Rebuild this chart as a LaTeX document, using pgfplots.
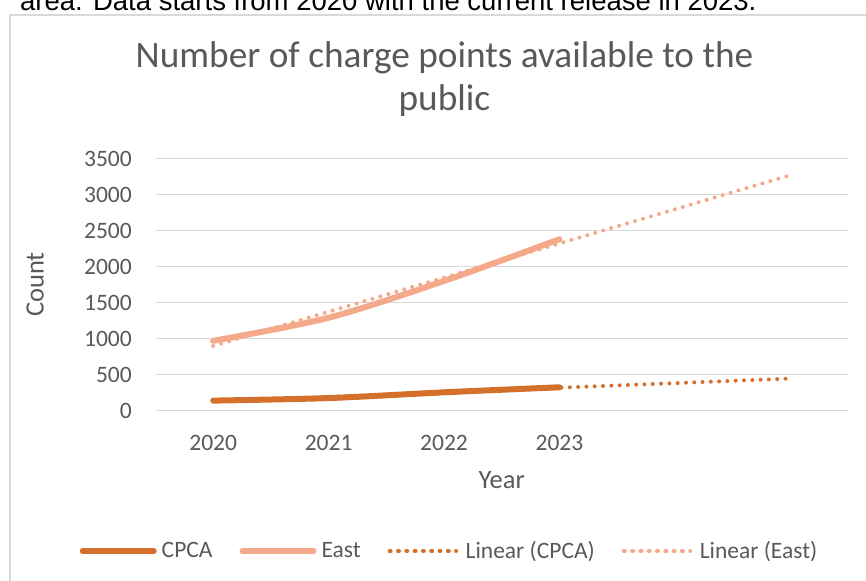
\documentclass[border=0pt]{standalone}
\usepackage{fontspec}
\setmainfont{Carlito}
\newfontfamily\arialfont{Liberation Sans}
\usepackage{pgfplots}
\pgfplotsset{compat=1.18}
\definecolor{cpca}{HTML}{D4702C}
\definecolor{east}{HTML}{F4A98A}
\definecolor{txt}{HTML}{595959}
\definecolor{gridc}{HTML}{D9D9D9}
\pgfplotsset{
  lineleg/.style={legend image code/.code={\draw[##1] (0bp,0bp) -- (71bp,0bp);}},
  trendleg/.style={legend image code/.code={\path (0bp,0bp) -- (69bp,0bp);\draw[##1] (1bp,0bp) -- (64bp,0bp);}},
}
\begin{document}
\begin{tikzpicture}[x=1bp,y=1bp]
\useasboundingbox (0,0) rectangle (866,581);
\clip (0,0) rectangle (866,581);
\node[anchor=base west, inner sep=0pt, font=\arialfont\fontsize{27.5bp}{32bp}\selectfont] at (20,570) {area. Data starts from 2020 with the current release in 2023.};
\draw[gridc, line width=1.5bp] (10,-10) rectangle (890,566);
\node[anchor=base, inner sep=0pt, text=txt, font=\fontsize{37.3bp}{44bp}\selectfont] at (444.5,513) {Number of charge points available to the};
\node[anchor=base, inner sep=0pt, text=txt, font=\fontsize{37.3bp}{44bp}\selectfont] at (444.5,470) {public};
\begin{axis}[
  at={(155.5bp,170.3bp)}, anchor=south west, scale only axis,
  width=692.5bp, height=252.2bp,
  xmin=-0.5, xmax=5.5, ymin=0, ymax=3500,
  xtick={0,1,2,3}, xticklabels={2020,2021,2022,2023},
  ytick={0,500,...,3500},
  ymajorgrids, grid style={draw=gridc, line width=1.3bp},
  axis line style={draw=none}, tick style={draw=none},
  /pgf/number format/assume math mode=true,
  /pgf/number format/1000 sep={},
  ticklabel style={font=\fontsize{23.5bp}{28bp}\selectfont, text=txt, inner sep=0pt},
  yticklabel style={anchor=east, xshift=-23.5bp},
  xticklabel style={anchor=north, yshift=-24bp},
  xlabel={Year}, ylabel={Count},
  label style={font=\fontsize{26.5bp}{31bp}\selectfont, text=txt, inner sep=0pt},
  xlabel style={at={(axis description cs:0.5,0)}, anchor=north, yshift=-61bp},
  ylabel style={at={(axis description cs:-0.174,0.5)}, anchor=center},
  legend columns=4,
  legend style={at={(axis description cs:0.4231,-0.5563)}, anchor=center, draw=none, fill=none,
    font=\fontsize{23.5bp}{28bp}\selectfont, text=txt, nodes={inner sep=0pt},
    /tikz/every odd column/.append style={column sep=5bp},
    /tikz/every even column/.append style={column sep=27bp}},
]
\addplot[cpca, line width=6bp, smooth, line cap=round, lineleg] coordinates {(0,140)(1,175)(2,255)(3,325)};
\addlegendentry{CPCA}
\addplot[east, line width=6bp, smooth, line cap=round, lineleg] coordinates {(0,970)(1,1290)(2,1800)(3,2380)};
\addlegendentry{East}
\addplot[cpca, line width=4bp, line cap=round, dash pattern=on 0bp off 8.3bp, trendleg] coordinates {(0,128.5)(5,446)};
\addlegendentry{Linear (CPCA)}
\addplot[east, line width=4bp, line cap=round, dash pattern=on 0bp off 8.3bp, trendleg] coordinates {(0,899)(5,3269)};
\addlegendentry{Linear (East)}
\end{axis}
\end{tikzpicture}
\end{document}
